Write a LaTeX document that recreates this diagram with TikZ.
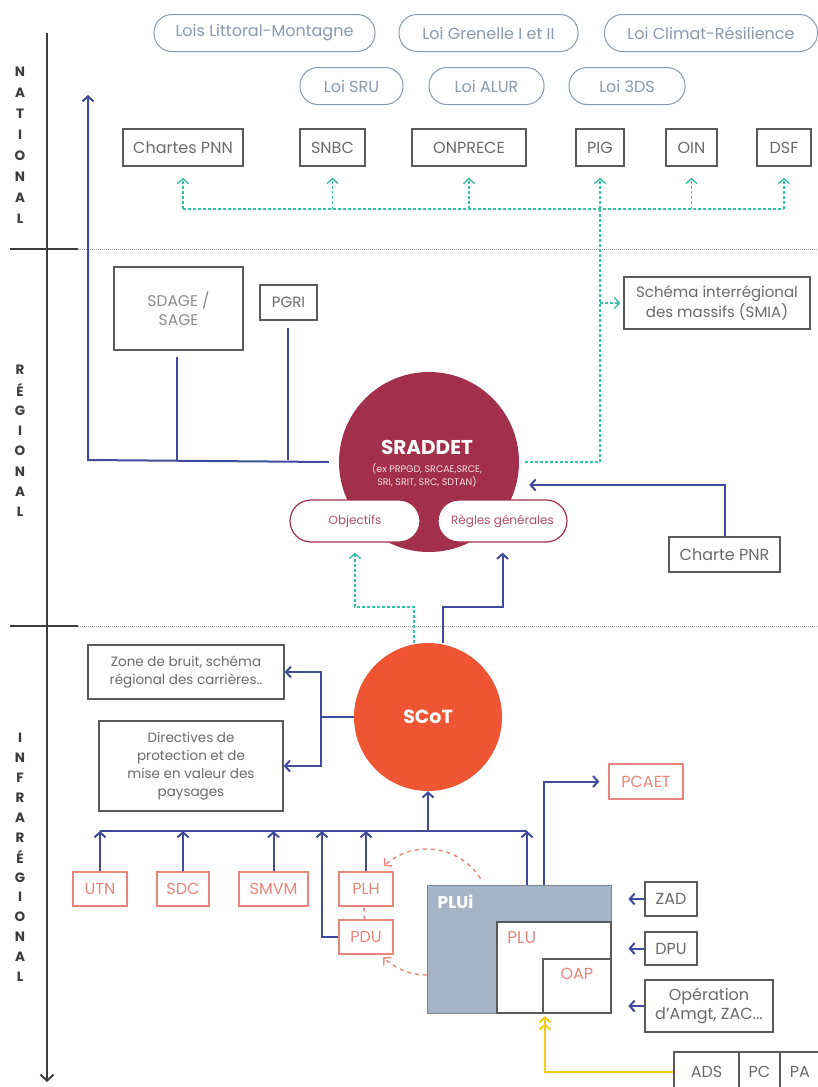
\documentclass[tikz,border=0pt]{standalone}
\usepackage{fontspec}
\setmainfont{Poppins}
\usetikzlibrary{arrows.meta}

\definecolor{axe}{HTML}{3C3C3C}
\definecolor{bleu}{HTML}{3F4A9C}
\definecolor{vert}{HTML}{35C2A2}
\definecolor{gristxt}{HTML}{5A5A5A}
\definecolor{loigris}{HTML}{8A99AC}
\definecolor{bordeaux}{HTML}{A3304A}
\definecolor{scotor}{HTML}{EF5533}
\definecolor{saumon}{HTML}{E9857A}
\definecolor{pluifond}{HTML}{A5B5C5}
\definecolor{jaune}{HTML}{F2CD1F}

\begin{document}
\begin{tikzpicture}[x=1pt,y=-1pt,>={Straight Barb[length=5pt,width=11pt]},
		boite/.style={draw=gristxt,line width=1.3pt,fill=white,text=gristxt!90,inner sep=0pt,
				align=center,font=\fontsize{16}{18}\selectfont},
		loi/.style={draw=loigris,line width=1pt,rounded corners=18pt,text=loigris,inner sep=0pt,
				minimum height=37pt,font=\fontsize{16}{18}\selectfont},
		rouge/.style={draw=saumon,line width=1.3pt,fill=white,text=saumon,inner sep=0pt,
				minimum height=34pt,font=\fontsize{16}{18}\selectfont},
		objet/.style={draw=bordeaux,line width=1.2pt,fill=white,text=bordeaux!85,inner sep=0pt,
				rounded corners=21pt,minimum height=42pt,font=\fontsize{12}{14}\selectfont},
		lettre/.style={text=axe,inner sep=0pt,font=\bfseries\fontsize{13.5}{13.5}\selectfont},
		lien/.style={bleu,line width=2pt},
		tiret/.style={vert,line width=1.4pt,dash pattern=on 3pt off 2pt},
		sep/.style={black!40,line width=1pt,dash pattern=on 1pt off 1pt}]

		\fill[white] (0,0) rectangle (818,1087);
		\useasboundingbox (0,0) rectangle (818,1087);

		% Ось и уровни
		\coordinate (axehaut) at (47,33);
		\coordinate (axebas) at (47,1082);
		\draw[axe,line width=2pt,-{Straight Barb[length=6pt,width=13pt]}] (axehaut) -- (axebas);
		\draw[axe,line width=2.5pt] (10,249) -- (78,249);
		\draw[sep] (78,249) -- (818,249);
		\draw[axe,line width=2.5pt] (10,626) -- (78,626);
		\draw[sep] (78,626) -- (818,626);
		\foreach \l [count=\i] in {N,A,T,I,O,N,A,L}
		\node[lettre] (nat\i) at (20,{72+(\i-1)*21}) {\l};
		\foreach \l [count=\i] in {R,É,G,I,O,N,A,L}
		\node[lettre] (reg\i) at (20,{370+(\i-1)*20.3}) {\l};
		\foreach \l [count=\i] in {I,N,F,R,A,R,É,G,I,O,N,A,L}
		\node[lettre] (inf\i) at (20,{738+(\i-1)*19.9}) {\l};

		% Лois nationales
		\node[loi,minimum width=221pt] (littoral) at (264.5,33) {Lois Littoral-Montagne};
		\node[loi,minimum width=179pt] (grenelle) at (488.5,33) {Loi Grenelle I et II};
		\node[loi,minimum width=213pt] (climat) at (711,33) {Loi Climat-Résilience};
		\node[loi,minimum width=103pt] (sru) at (351.5,86) {Loi SRU};
		\node[loi,minimum width=115pt] (alur) at (486.5,86) {Loi ALUR};
		\node[loi,minimum width=116pt] (tds) at (627,86) {Loi 3DS};

		% Национальный уровень
		\node[boite,minimum width=120pt,minimum height=37pt] (pnn) at (183,147.5) {Chartes PNN};
		\node[boite,minimum width=65pt,minimum height=37pt] (snbc) at (332.5,147.5) {SNBC};
		\node[boite,minimum width=114pt,minimum height=37pt] (onprece) at (469,147.5) {ONPRECE};
		\node[boite,minimum width=48pt,minimum height=37pt] (pig) at (600,147.5) {PIG};
		\node[boite,minimum width=51pt,minimum height=37pt] (oin) at (691.5,147.5) {OIN};
		\node[boite,minimum width=54pt,minimum height=37pt] (dsf) at (784,147.5) {DSF};

		% Региональный уровень
		\node[boite,minimum width=129pt,minimum height=83pt,text=gristxt!70,
			font=\fontsize{15.5}{19}\selectfont] (sdage) at (178.5,308.5) {SDAGE /\\SAGE};
		\node[boite,minimum width=57pt,minimum height=35pt,font=\fontsize{15}{18}\selectfont] (pgri) at (288.5,302.5) {PGRI};
		\node[boite,minimum width=186pt,minimum height=52pt,font=\fontsize{15}{18}\selectfont] (smia) at (717,303)
		{Schéma interrégional\\des massifs (SMIA)};
		\node[boite,minimum width=111pt,minimum height=35pt] (pnr) at (724.5,554.5) {Charte PNR};

		\node[circle,fill=bordeaux,minimum size=180pt,inner sep=0pt] (sraddet) at (429,462) {};
		\node[text=white,font=\bfseries\fontsize{20}{20}\selectfont] (sraddett) at (427,447) {SRADDET};
		\node[text=white!85!bordeaux,align=center,font=\fontsize{9.5}{12.5}\selectfont] (sraddets) at (427,475.5)
		{(ex PRPGD, SRCAE,SRCE,\\SRI, SRIT, SRC, SDTAN)};
		\node[objet,minimum width=130pt] (objectifs) at (355,521) {Objectifs};
		\node[objet,minimum width=129pt] (regles) at (502.5,521) {Règles générales};

		% Связи с SRADDET
		\coordinate (gbus) at (0,209);
		\draw[tiret] (pnn.south |- gbus) -- (dsf.south |- gbus);
		\foreach \n in {pnn,snbc,onprece,pig,oin,dsf}
		\draw[tiret,->] (\n.south |- gbus) -- ([yshift=-11pt]\n.south);
		\draw[tiret] (pig.south |- gbus) -- (pig.south |- sraddet.east) -- ([xshift=5pt]sraddet.east);
		\draw[tiret,->] (pig.south |- smia.west) -- ([xshift=-3pt]smia.west);

		\coordinate (bcoin) at (88,460);
		\coordinate (bhaut) at (88,95);
		\draw[lien,->] ([xshift=-10pt]sraddet.west) -- (bcoin) -- (bhaut);
		\draw[lien] ([shift={(-1.5pt,-6pt)}]sdage.south) -- ([xshift=-1.5pt]sdage.south |- bcoin);
		\draw[lien] ([shift={(-0.5pt,-7pt)}]pgri.south) -- ([xshift=-0.5pt]pgri.south |- bcoin);
		\coordinate (pnrcoude) at (724.5,485);
		\draw[lien,->] (pnr.north) -- (pnrcoude) -- ([xshift=10pt]sraddet.east |- pnrcoude);

		% Инфрарегиональный уровень
		\node[circle,fill=scotor,minimum size=148pt,inner sep=0pt,text=white,
			font=\bfseries\fontsize{19}{19}\selectfont] (scot) at (428,717) {SCoT};
		\node[boite,minimum width=196pt,minimum height=54pt,font=\fontsize{13.5}{18}\selectfont] (bruit) at (186,672)
		{Zone de bruit, schéma\\régional des carrières..};
		\node[boite,minimum width=184pt,minimum height=90pt,font=\fontsize{13.5}{18}\selectfont] (paysages) at (191,766)
		{Directives de\\protection et de\\mise en valeur des\\paysages};

		\draw[tiret,->] ([xshift=-14pt]scot.north) -- ++(0,-36) -| ([yshift=-10pt]objectifs.south);
		\draw[lien,->] ([xshift=15pt]scot.north) -- ++(0,-36) -| ([yshift=-10pt]regles.south);

		\coordinate (scotg) at (321,717);
		\draw[lien] (scot.west) -- (scotg);
		\draw[lien,->] (scotg) |- (bruit.east);
		\draw[lien,->] (scotg) |- (paysages.east);

		% Пунктирный круг PLH / PDU / PLUi
		\coordinate (cercle) at (427,912);
		\draw[saumon,line width=1.4pt,dash pattern=on 4pt off 4pt,->] ([shift={(-32:63)}]cercle) arc[start angle=-32,end angle=-133,radius=63];
		\draw[saumon,line width=1.4pt,dash pattern=on 4pt off 4pt] ([shift={(173:63)}]cercle) arc[start angle=173,end angle=188,radius=63];
		\draw[saumon,line width=1.4pt,dash pattern=on 4pt off 4pt,->] ([shift={(90:63)}]cercle) arc[start angle=90,end angle=134,radius=63];

		\node[rouge,minimum width=54pt] (utn) at (100,889) {UTN};
		\node[rouge,minimum width=52pt] (sdc) at (183,889) {SDC};
		\node[rouge,minimum width=69pt] (smvm) at (273.5,889) {SMVM};
		\node[rouge,minimum width=54pt] (plh) at (366,889) {PLH};
		\node[rouge,minimum width=54pt] (pdu) at (366,937) {PDU};
		\node[rouge,minimum width=74pt,minimum height=35pt] (pcaet) at (646,781.5) {PCAET};

		\node[draw=pluifond!75!black,fill=pluifond,line width=1pt,minimum width=184pt,minimum height=128pt,
			inner sep=0pt] (plui) at (519,949) {};
		\node[draw=gristxt,fill=white,line width=1.3pt,minimum width=114pt,minimum height=91pt,inner sep=0pt,
			anchor=south east] (plu) at (plui.south east) {};
		\node[draw=gristxt,fill=white,line width=1.3pt,minimum width=68pt,minimum height=54pt,inner sep=0pt,
			anchor=south east] (oap) at (plui.south east) {};
		\node[anchor=north west,text=white,inner sep=0pt,font=\bfseries\fontsize{17}{17}\selectfont]
		(pluit) at ([shift={(11pt,-10pt)}]plui.north west) {PLUi};
		\node[anchor=north west,text=saumon,inner sep=0pt,font=\fontsize{17}{17}\selectfont]
		(plut) at ([shift={(11pt,-10pt)}]plu.north west) {PLU};
		\node[anchor=north,text=saumon,inner sep=0pt,font=\fontsize{16}{16}\selectfont]
		(oapt) at ([yshift=-10pt]oap.north) {OAP};

		\node[boite,minimum width=52pt,minimum height=34pt] (zad) at (671,899) {ZAD};
		\node[boite,minimum width=52pt,minimum height=33pt] (dpu) at (671,948.5) {DPU};
		\node[boite,minimum width=128pt,minimum height=52pt,font=\fontsize{16}{19}\selectfont] (operation) at (709,1006)
		{Opération\\d'Amgt, ZAC...};
		\node[boite,minimum width=65pt,minimum height=40pt] (ads) at (706.5,1072) {ADS};
		\node[boite,minimum width=41pt,minimum height=40pt] (pc) at (759.5,1072) {PC};
		\node[boite,minimum width=40pt,minimum height=40pt] (pa) at (800,1072) {PA};

		% Шина и стрелки
		\coordinate (bus) at (0,831);
		\draw[lien] (utn.north |- bus) -- ([xshift=8pt]plui.north |- bus);
		\draw[lien,->] (scot.south |- bus) -- (scot.south);
		\foreach \n in {utn,sdc,smvm,plh}
		\draw[lien,->] (\n.north) -- (\n.north |- bus);
		\coordinate (pducoude) at (322,831);
		\draw[lien,->] (pdu.west) -| (pducoude);
		\draw[lien,->] ([xshift=8pt]plui.north) -- ([xshift=8pt]plui.north |- bus);
		\draw[lien,->] ([xshift=25pt]plui.north) |- ([xshift=-9pt]pcaet.west);
		\foreach \n in {zad,dpu,operation}
		\draw[lien,->] (\n.west) -- ++(-16,0);

		\coordinate (jcoude) at (545,1072);
		\coordinate (jhaut) at (545,1016);
		\draw[jaune,line width=2pt,-{Straight Barb[length=5pt,width=11pt]Straight Barb[length=5pt,width=11pt]}]
		(ads.west) -- (jcoude) -- (jhaut);
	\end{tikzpicture}
\end{document}
